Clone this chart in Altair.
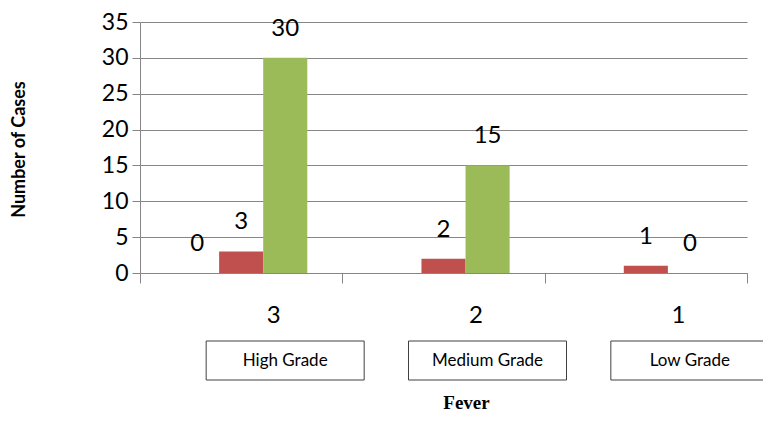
import altair as alt
import pandas as pd

# ---- data ----
categories = ["3", "2", "1"]
grades = ["High Grade", "Medium Grade", "Low Grade"]
series = ["Series1", "Series2", "Series3"]
blue = [0, None, None]
red = [3, 2, 1]
green = [30, 15, 0]
colors = ["#4F81BD", "#C0504D", "#9BBB59"]
y_ticks = [0, 5, 10, 15, 20, 25, 30, 35]

rows = []
for s, vals in zip(series, [blue, red, green]):
    for c, v in zip(categories, vals):
        if v is not None:
            rows.append({"cat": c, "series": s, "value": v})
df = pd.DataFrame(rows)
boxes = pd.DataFrame({"cat": categories, "grade": grades})

FONT = "Lato"

x_enc = alt.X(
    "cat:N",
    sort=categories,
    scale=alt.Scale(paddingInner=0, paddingOuter=0),
    axis=alt.Axis(
        title="Fever",
        titleFont="Liberation Serif",
        titleFontWeight="bold",
        titleFontSize=19,
        titleColor="black",
        titleX=326,
        titleY=129,
        titleBaseline="middle",
        labelAngle=0,
        labelFont=FONT,
        labelFontSize=24,
        labelColor="black",
        labelOffset=32,
        labelPadding=32,
        labelBaseline="middle",
        tickBand="extent",
        tickSize=10,
        tickColor="#868686",
        domainColor="#868686",
        grid=False,
    ),
)

y_enc = alt.Y(
    "value:Q",
    scale=alt.Scale(domain=[0, 35], nice=False),
    axis=alt.Axis(
        values=y_ticks,
        title="Number of Cases",
        titleFont=FONT,
        titleFontWeight="bold",
        titleFontSize=18,
        titleColor="black",
        titleAngle=-90,
        titleX=-121,
        titleY=127,
        titleAlign="center",
        titleBaseline="middle",
        labelFont=FONT,
        labelFontSize=23,
        labelColor="black",
        labelPadding=4,
        tickSize=8,
        tickColor="#868686",
        domainColor="#868686",
        gridColor="#868686",
        grid=True,
    ),
)

xoff = alt.XOffset(
    "series:N",
    sort=series,
    scale=alt.Scale(paddingInner=0, paddingOuter=0.795),
)
color = alt.Color(
    "series:N",
    scale=alt.Scale(domain=series, range=colors),
    legend=None,
)

bars = alt.Chart(df).mark_bar().encode(x=x_enc, y=y_enc, xOffset=xoff, color=color)

labels = alt.Chart(df).mark_text(
    dy=-29, font=FONT, fontSize=24, color="black", baseline="middle"
).encode(x=x_enc, y=y_enc, xOffset=xoff, text="value:Q")

box_rects = alt.Chart(boxes).mark_bar(
    width=158, xOffset=44, fill="white", stroke="#404040", strokeWidth=1
).encode(
    x=alt.X("cat:N", sort=categories),
    y=alt.value(319),
    y2=alt.value(358),
)

box_text = alt.Chart(boxes).mark_text(
    xOffset=44, font=FONT, fontSize=17, color="black", baseline="middle"
).encode(
    x=alt.X("cat:N", sort=categories),
    y=alt.value(338.5),
    text="grade:N",
)

chart = (
    alt.layer(bars, labels, box_rects, box_text)
    .properties(
        width=607,
        height=251,
        autosize=alt.AutoSizeParams(type="none"),
        padding={"left": 132, "top": 14, "right": 16, "bottom": 141},
        background="white",
    )
    .configure_view(stroke=None)
)

chart.save("out.html", embed_options={"renderer": "svg", "actions": False})
